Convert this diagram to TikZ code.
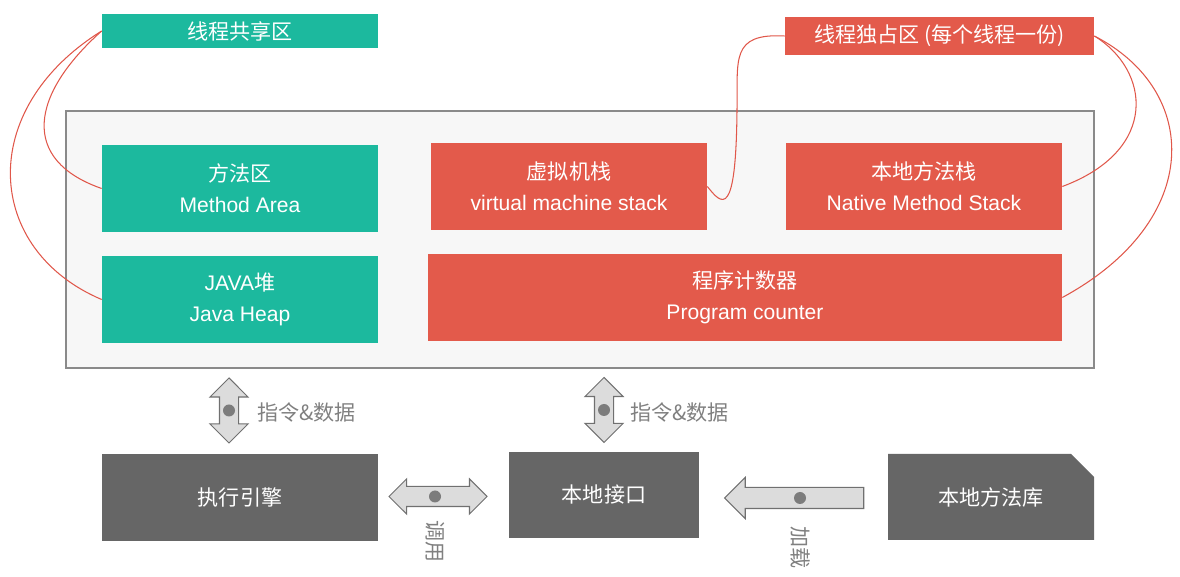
\documentclass[tikz,border=0pt]{standalone}
\usepackage{fontspec}
\setmainfont{Liberation Sans}
\newfontfamily\cjk{Noto Sans CJK SC}
\usetikzlibrary{shapes.arrows,shapes.misc}

\definecolor{vertbloc}{HTML}{1CB99E}
\definecolor{rougebloc}{HTML}{E35A4B}
\definecolor{rougelien}{HTML}{E0574A}
\definecolor{grisfonce}{HTML}{666666}
\definecolor{griscadre}{HTML}{F7F7F7}
\definecolor{grisbordcadre}{HTML}{8A8A8A}
\definecolor{grisclair}{HTML}{DCDCDC}
\definecolor{grisbord}{HTML}{707070}
\definecolor{grispoint}{HTML}{7C7C7C}
\definecolor{grislegende}{HTML}{808080}

\tikzset{
  bloc/.style={minimum width=55.2mm, minimum height=17.4mm, inner sep=0pt,
    text=white, align=center, font=\fontsize{12}{17.6}\selectfont},
  partage/.style={bloc, fill=vertbloc},
  prive/.style={bloc, fill=rougebloc},
  moteur/.style={bloc, fill=grisfonce},
  fleche/.style={fill=grisclair, draw=grisbord, line width=0.6pt, inner xsep=0pt},
  lien/.style={draw=rougelien, line width=0.6pt},
  legende/.style={text=grislegende, inner sep=0pt, font=\cjk\fontsize{12}{14}\selectfont},
}

\begin{document}
\begin{tikzpicture}[x=0.2mm, y=-0.2mm]
    \useasboundingbox (0,0) rectangle (1180,577);

    % Cadre de la machine virtuelle
    \draw[fill=griscadre, draw=grisbordcadre, line width=0.9pt] (66,111) rectangle (1094,368);

    % Les deux titres de zone
    \node[partage, minimum height=6.8mm] (partage) at (240,31) {\cjk 线程共享区};
    \node[prive, minimum width=61.8mm, minimum height=7.6mm] (prive) at (939.5,36)
        {\cjk 线程独占区 (每个线程一份)};

    % Zones de memoire
    \node[partage] (methode) at (240,188.5) {{\cjk 方法区}\\Method Area};
    \node[partage] (tas) at (240,299.5) {JAVA{\cjk 堆}\\Java Heap};
    \node[prive] (pilevm) at (569,186.5) {{\cjk 虚拟机栈}\\virtual machine stack};
    \node[prive] (pilenat) at (924,186.5) {{\cjk 本地方法栈}\\Native Method Stack};
    \node[prive, minimum width=126.8mm] (compteur) at (745,297.5)
        {{\cjk 程序计数器}\\Program counter};

    % Blocs du bas
    \node[moteur] (moteur) at (240,497.5) {\cjk 执行引擎};
    \node[moteur, minimum width=38mm, minimum height=17.2mm] (interface) at (604,495) {\cjk 本地接口};
    \node[moteur, chamfered rectangle, chamfered rectangle corners=north east,
        chamfered rectangle xsep=2.6mm, chamfered rectangle ysep=2.6mm,
        minimum width=41.2mm, minimum height=17.2mm] (biblio) at (991,497) {\cjk 本地方法库};

    % Fleches pleines avec leur point
    \node[fleche, double arrow, rotate=90, minimum height=13mm, inner ysep=1.8mm,
        double arrow head extend=1.9mm] (f1) at (229,410.5) {};
    \node[fleche, double arrow, rotate=90, minimum height=13mm, inner ysep=1.8mm,
        double arrow head extend=1.9mm] (f2) at (604,410) {};
    \node[fleche, double arrow, minimum height=19.6mm, inner ysep=1.9mm,
        double arrow head extend=1.5mm] (f3) at (438,496.5) {};
    \node[fleche, single arrow, rotate=180, minimum height=27.8mm, inner ysep=2mm,
        single arrow head extend=2mm] (f4) at (799.5,498) {};
    \foreach \f/\dx in {f1/0, f2/0, f3/-3, f4/0.5}
        \fill[grispoint] ([xshift=\dx*0.2mm]\f.center) circle (1.2mm);

    % Legendes des fleches
    \node[legende, anchor=west] (l1) at (257,412) {指令\&数据};
    \node[legende, anchor=west] (l2) at (630,412) {指令\&数据};
    \node[legende, rotate=-90] (l3) at (435,542) {调用};
    \node[legende, rotate=-90] (l4) at (800,548) {加载};

    % Liens rouges vers les zones
    \draw[lien] (partage.west) .. controls (30,95) and (20,160) .. (methode.west);
    \draw[lien] (partage.west) .. controls (-25,110) and (-15,250) .. (tas.west);
    \draw[lien] (prive.west) .. controls (730,33) and (738,60) .. (737,110)
        .. controls (736,220) and (722,205) .. (pilevm.east);
    \draw[lien] (prive.east) .. controls (1150,70) and (1160,150) .. (pilenat.east);
    \draw[lien] (prive.east) .. controls (1200,90) and (1205,220) .. (compteur.east);
\end{tikzpicture}
\end{document}
